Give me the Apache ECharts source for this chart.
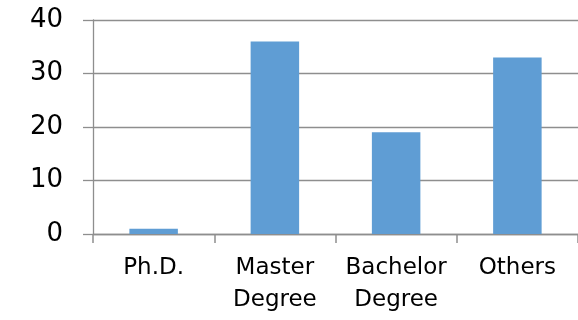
<!DOCTYPE html>
<html>
<head>
<meta charset="utf-8">
<script src="https://cdn.jsdelivr.net/npm/echarts@6/dist/echarts.min.js"></script>
<style>
  html, body { margin: 0; padding: 0; background: #fff; }
  #main { width: 578px; height: 320px; }
</style>
</head>
<body>
<div id="main"></div>
<script>
// 数据
var categories = ['Ph.D.', 'Master\nDegree', 'Bachelor\nDegree', 'Others'];
var values = [1, 36, 19, 33];
var yTicks = [0, 10, 20, 30, 40];

var myChart = echarts.init(document.getElementById('main'));

var option = {
    animation: false,
    grid: { left: 93, top: 20, width: 490, height: 214 },
    xAxis: {
        type: 'category',
        data: categories,
        axisLine: { show: true, lineStyle: { color: '#8e8e8e', width: 1.3 } },
        axisTick: {
            show: true,
            interval: 0,
            alignWithLabel: false,
            inside: false,
            length: 9,
            lineStyle: { color: '#8e8e8e', width: 1.5 }
        },
        axisLabel: {
            interval: 0,
            hideOverlap: false,
            color: '#000',
            fontFamily: 'DejaVu Sans',
            fontSize: 23,
            lineHeight: 32,
            margin: 18
        }
    },
    yAxis: {
        type: 'value',
        min: yTicks[0],
        max: yTicks[yTicks.length - 1],
        interval: 10,
        axisLine: { show: true, lineStyle: { color: '#8e8e8e', width: 1.3 } },
        axisTick: { show: true, length: 10, lineStyle: { color: '#8e8e8e', width: 1.3 } },
        splitLine: { lineStyle: { color: '#8e8e8e', width: 1.3 } },
        axisLabel: {
            color: '#000',
            fontFamily: 'DejaVu Sans',
            fontSize: 26,
            margin: 30
        }
    },
    series: [{
        type: 'bar',
        data: values,
        barWidth: '40%',
        itemStyle: { color: '#5f9dd4' }
    }]
};

myChart.setOption(option);
</script>
</body>
</html>
